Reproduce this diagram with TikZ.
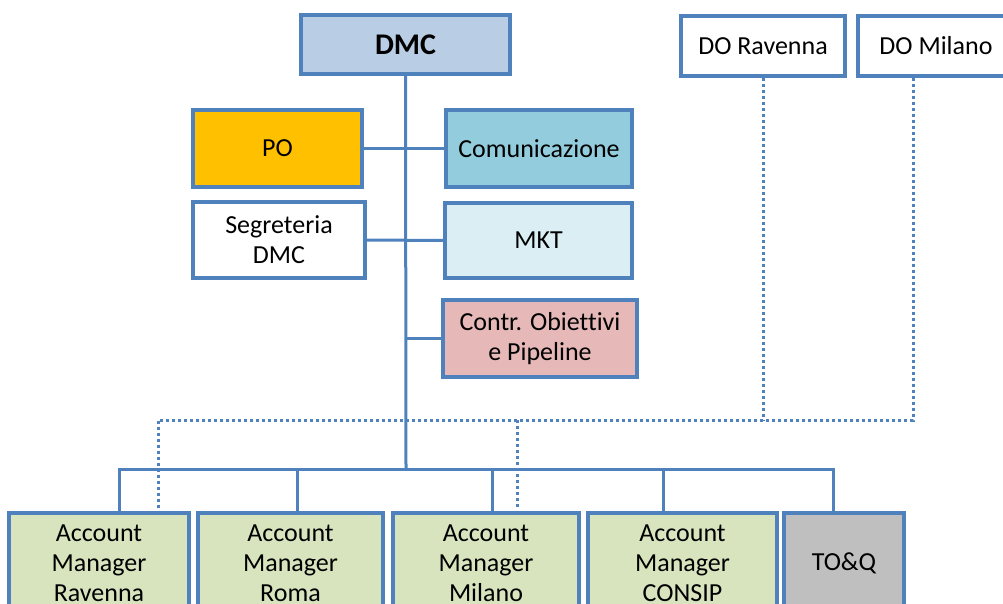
\documentclass[tikz,border=0pt]{standalone}
\usepackage{fontspec}
\setmainfont[Ligatures=NoCommon]{Carlito}
\usetikzlibrary{calc}

\definecolor{linea}{HTML}{4F81BD}
\definecolor{fillDMC}{HTML}{B9CDE5}
\definecolor{fillPO}{HTML}{FFC000}
\definecolor{fillCom}{HTML}{93CDDD}
\definecolor{fillMKT}{HTML}{DBEEF4}
\definecolor{fillContr}{HTML}{E6B9B8}
\definecolor{fillAM}{HTML}{D7E4BD}
\definecolor{fillTOQ}{HTML}{BFBFBF}

\tikzset{
  ufficio/.style={rectangle, draw=linea, line width=3.4pt, align=center,
    inner sep=0pt, font=\fontsize{26}{30}\selectfont},
  linka/.style={draw=linea, line width=3pt},
  funzionale/.style={draw=linea, line width=3pt, dash pattern=on 3pt off 3pt}
}

\begin{document}
\begin{tikzpicture}[x=1pt, y=-1pt]
      \useasboundingbox (0,0) rectangle (1003,604);
      \clip (0,0) rectangle (1003,604);

      \node [ufficio, fill=fillDMC, minimum width=209pt, minimum height=59pt,
        font=\fontsize{30}{30}\selectfont\bfseries] (DMC) at (405.5,44.5) {DMC};
      \node [ufficio, fill=fillPO, minimum width=169pt, minimum height=77pt] (PO) at (277.5,148.5) {PO};
      \node [ufficio, fill=fillCom, minimum width=186pt, minimum height=77pt] (Com) at (539,148.5) {Comunicazione};
      \node [ufficio, fill=white, minimum width=172pt, minimum height=76pt] (Seg) at (279,240) {Segreteria\\DMC};
      \node [ufficio, fill=fillMKT, minimum width=187pt, minimum height=75pt] (MKT) at (538.5,240.5) {MKT};
      \node [ufficio, fill=fillContr, minimum width=194pt, minimum height=77pt] (Contr) at (540,338.5) {Contr. Obiettivi\\e Pipeline};

      \node [ufficio, fill=white, minimum width=164pt, minimum height=60pt] (DORav) at (763,46) {DO Ravenna};
      \node [ufficio, fill=white, minimum width=156pt, minimum height=60pt] (DOMil) at (936,46) {DO Milano};

      % account manager
      \node [ufficio, fill=fillAM, minimum width=180pt, minimum height=100pt] (AMRav) at (99,563) {Account\\Manager\\Ravenna};
      \node [ufficio, fill=fillAM, minimum width=185pt, minimum height=100pt] (AMRom) at (290.5,563) {Account\\Manager\\Roma};
      \node [ufficio, fill=fillAM, minimum width=186pt, minimum height=100pt] (AMMil) at (486,563) {Account\\Manager\\Milano};
      \node [ufficio, fill=fillAM, minimum width=189pt, minimum height=100pt] (AMCon) at (682.5,563) {Account\\Manager\\CONSIP};
      \node [ufficio, fill=fillTOQ, minimum width=120pt, minimum height=100pt] (TOQ) at (844,563) {TO\&Q};

      \coordinate (Bus) at (406,469);
      \coordinate (Rete) at (913,420);

      \draw [linka] (DMC.south) -- (Bus);
      \draw [linka] (PO.east) -- (Com.west);
      \draw [linka] (Seg.east) -- (MKT.west);
      \draw [linka] (Contr.west) -- (Contr.west -| Bus);
      \draw [linka] (AMRav.north -| 119,0) -- (119,469) -- (833,469) -- (TOQ.north -| 833,0);
      \foreach \xx/\nn in {297/AMRom, 492/AMMil, 663/AMCon}
        \draw [linka] (\xx,469) -- (\nn.north -| \xx,0);

      % linee funzionali
      \draw [funzionale] (DORav.south) -- (DORav.south |- Rete);
      \draw [funzionale] (DOMil.south -| Rete) -- (Rete) -- (158,420) -- (AMRav.north -| 158,0);
      \draw [funzionale] (517,420) -- (517,507);
    \end{tikzpicture}
\end{document}
